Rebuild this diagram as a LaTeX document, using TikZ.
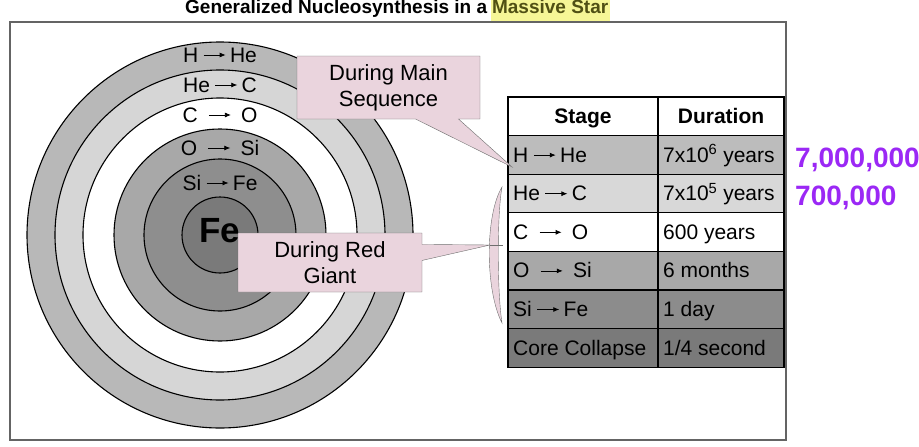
\documentclass[tikz,border=0pt]{standalone}
\usepackage{fontspec}
\setmainfont{Liberation Sans}
\usetikzlibrary{shapes.callouts,positioning,arrows.meta}

\definecolor{ringH}{RGB}{184,184,184}
\definecolor{ringHe}{RGB}{214,214,214}
\definecolor{ringO}{RGB}{168,168,168}
\definecolor{ringSi}{RGB}{142,142,142}
\definecolor{ringFe}{RGB}{122,122,122}
\definecolor{rowA}{RGB}{188,188,188}
\definecolor{rowB}{RGB}{216,216,216}
\definecolor{rowD}{RGB}{168,168,168}
\definecolor{rowE}{RGB}{140,140,140}
\definecolor{rowF}{RGB}{122,122,122}
\definecolor{calloutpink}{RGB}{234,212,221}
\definecolor{calloutline}{RGB}{110,110,110}
\definecolor{framegray}{RGB}{100,100,100}
\definecolor{hiyellow}{RGB}{246,246,150}
\definecolor{olivetext}{RGB}{80,80,20}
\definecolor{numpurple}{RGB}{155,40,245}

% reaction arrow as in the labels
\newcommand\reacto{\hspace{5pt}\tikz[baseline=-7pt]\draw[line width=0.8pt,-{Latex[length=6pt,width=5pt]}] (0pt,0pt) -- (22pt,0pt);\hspace{4pt}}

\begin{document}
\begin{tikzpicture}[x=1pt, y=-1pt,
        titletext/.style={font=\bfseries\fontsize{19}{22}\selectfont, inner sep=0},
        ringlabel/.style={font=\fontsize{21}{25}\selectfont, anchor=base, inner sep=0},
        cell/.style={font=\fontsize{21}{25}\selectfont, anchor=base west, inner sep=0},
        headcell/.style={font=\bfseries\fontsize{21}{25}\selectfont, anchor=base, inner sep=0},
        callbox/.style={rectangle callout, draw=calloutline, fill=calloutpink,
            font=\fontsize{22}{26}\selectfont, align=center, inner sep=0},
        bignum/.style={font=\bfseries\fontsize{28}{32}\selectfont, text=numpurple,
            anchor=base west, inner sep=0}]

                    \useasboundingbox (0,0) rectangle (919,447);

                    % title
                    \node[titletext, anchor=base west] (t1) at (185,13.5) {Generalized Nucleosynthesis in a};
                    \node[titletext, anchor=base west, fill=hiyellow, text=olivetext,
                        text height=12, text depth=6, inner xsep=1.5, inner ysep=1.5]
                        (t2) at ([xshift=3pt]t1.base east) {Massive Star};

                    \draw[framegray, line width=1.5] (10,22) rectangle (786,440);

                    % shells of the star
                    \coordinate (c) at (220,235);
                    \foreach \r/\col in {193/ringH, 165/ringHe, 137/white, 106/ringO, 76/ringSi, 38/ringFe}
                    \draw[line width=1.1, fill=\col] (c) circle (\r);

                    \foreach \n/\y/\txt in {h/62/H\reacto He, he/92/He\reacto C, co/122/C\ \reacto\ O,
                            os/155/O\ \reacto\ Si, si/190/Si\reacto Fe}
                    \node[ringlabel] (l\n) at (220,\y) {\txt};
                    \node[font=\bfseries\fontsize{35}{40}\selectfont, anchor=base, inner sep=0] (fe) at (220,242) {Fe};

                    % table
                    \foreach \i/\st/\du/\fc in {1/H\reacto He/7x10\textsuperscript{6} years/rowA,
                            2/He\reacto C/7x10\textsuperscript{5} years/rowB,
                            3/C\ \reacto\ O/600 years/white,
                            4/O\ \reacto\ Si/6 months/rowD,
                            5/Si\reacto Fe/1 day/rowE,
                            6/Core Collapse/{1/4 second}/rowF}
                    {
                        \fill[\fc] (508,97+38.6*\i) rectangle (784,135.6+38.6*\i);
                        \draw[line width=1.1] (508,97+38.6*\i) -- (784,97+38.6*\i);
                        \node[cell] (st\i) at (513,123.5+38.6*\i) {\st};
                        \node[cell] (du\i) at (663,123.5+38.6*\i) {\du};
                    }
                    \draw[line width=1.1] (508,97) rectangle (784,367.2);
                    \draw[line width=1.1] (658,97) -- (658,367.2);
                    \node[headcell] (stage) at (583,123.5) {Stage};
                    \node[headcell] (dur) at (721,123.5) {Duration};

                    \node[bignum] (n1) at (795,167) {7,000,000};
                    \node[bignum] (n2) at (795,205) {700,000};

                    % callouts
                    \coordinate (msTip) at (512,167);
                    \coordinate (rgTip) at (490,245);
                    \coordinate (brTick) at (503,245);
                    \node[callbox, minimum width=183, minimum height=63,
                        callout absolute pointer={(msTip)}, callout pointer width=43]
                        (ms) at (388.5,87.5) {During Main\\Sequence};
                    \node[callbox, minimum width=184, minimum height=59,
                        callout absolute pointer={(rgTip)}, callout pointer width=16]
                        (rg) at (330,262.5) {During Red\\Giant};
                    \draw[calloutline, fill=calloutpink]
                        (502,187) .. controls (485,215) and (485,290) .. (502,323)
                        .. controls (497,290) and (497,215) .. cycle;
                    \draw[calloutline] (rgTip) -- (brTick);
                \end{tikzpicture}
\end{document}
